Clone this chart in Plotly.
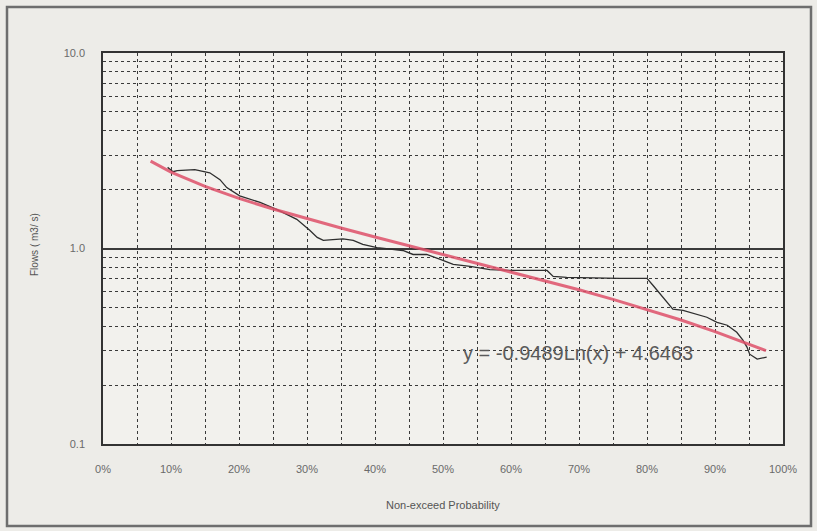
import plotly.graph_objects as go

# Flow duration curve (non-exceedance probability %, flow m3/s)
prob = [9.5, 10.3, 10.9, 13.5, 15.7, 17.2, 18.2, 20.1, 23.1, 25.6, 28.5, 29.4, 30.4, 31.5,
        32.4, 33.8, 35.3, 36.8, 38.2, 40.3, 42.2, 44.1, 45.6, 47.6, 49.6, 51.5, 54.0,
        56.9, 59.9, 63.2, 65.3, 66.2, 68.2, 76.0, 80.0, 80.9, 82.4, 83.8, 85.3, 87.4,
        88.8, 90.3, 91.8, 93.2, 94.1, 94.7, 95.1, 96.2, 97.6]
flow = [2.60, 2.47, 2.50, 2.53, 2.44, 2.25, 2.05, 1.86, 1.72, 1.58, 1.41, 1.33, 1.24, 1.14,
        1.10, 1.11, 1.12, 1.10, 1.05, 1.01, 0.99, 0.977, 0.932, 0.932, 0.879, 0.829, 0.81,
        0.78, 0.772, 0.772, 0.772, 0.72, 0.711, 0.703, 0.703, 0.647, 0.562, 0.489, 0.483, 0.461,
        0.445, 0.419, 0.405, 0.373, 0.340, 0.313, 0.288, 0.272, 0.278]

# Logarithmic trend line
trend_prob = [7, 10, 15, 20, 25, 30, 35, 40, 45, 50, 55, 60, 65, 70, 75, 80, 85, 90, 95, 97.5]
trend_flow = [2.800, 2.461, 2.077, 1.804, 1.592, 1.419, 1.273, 1.146, 1.034, 0.934, 0.844,
              0.761, 0.685, 0.615, 0.549, 0.488, 0.431, 0.376, 0.325, 0.300]

x_ticks = [0, 10, 20, 30, 40, 50, 60, 70, 80, 90, 100]
x_tick_labels = ["0%", "10%", "20%", "30%", "40%", "50%", "60%", "70%", "80%", "90%", "100%"]
y_ticks = [0.1, 1, 10]
y_tick_labels = ["0.1", "1.0", "10.0"]

equation = "y = -0.9489Ln(x) + 4.6463"

W, H = 817, 531
L, R, T, B = 103, 34, 53, 87
pw, ph = W - L - R, H - T - B

def px(xp):
    return (xp - L) / pw

def py(yp):
    return (H - B - yp) / ph

fig = go.Figure()
fig.add_trace(go.Scatter(x=prob, y=flow, mode="lines",
                         line=dict(color="#2e2e2e", width=1.3), showlegend=False))
fig.add_trace(go.Scatter(x=trend_prob, y=trend_flow, mode="lines",
                         line=dict(color="rgba(222,80,105,0.85)", width=3), showlegend=False))

grid_dash = "3px,3px"
fig.update_xaxes(range=[0, 100], tickvals=x_ticks, ticktext=x_tick_labels,
                 showgrid=True, gridcolor="#3a3a3a", gridwidth=1, griddash=grid_dash,
                 minor=dict(dtick=5, showgrid=True, gridcolor="#3a3a3a", gridwidth=1, griddash=grid_dash),
                 showline=True, mirror=True, linecolor="#333", linewidth=1.5,
                 ticks="", zeroline=False,
                 tickfont=dict(family="Liberation Sans, Arial", size=11, color="#6a6a6a"),
                 ticklabelstandoff=14)
fig.update_yaxes(type="log", range=[-1, 1], tickvals=y_ticks, ticktext=y_tick_labels,
                 showgrid=True, gridcolor="#3a3a3a", gridwidth=1.5,
                 minor=dict(dtick="D1", showgrid=True, gridcolor="#3a3a3a", gridwidth=1, griddash=grid_dash),
                 showline=True, mirror=True, linecolor="#333", linewidth=1.5,
                 ticks="", zeroline=False,
                 tickfont=dict(family="Liberation Sans, Arial", size=11, color="#6a6a6a"),
                 ticklabelstandoff=14)

annotations = [
    dict(text="Non-exceed Probability", xref="paper", yref="paper", x=px(443), y=py(505),
         xanchor="center", yanchor="middle",
         showarrow=False, font=dict(family="Liberation Sans, Arial", size=11, color="#555")),
    dict(text="Flows ( m3/ s)", xref="paper", yref="paper", x=px(34), y=py(245),
         xanchor="center", yanchor="middle",
         textangle=-90, showarrow=False, font=dict(family="Liberation Sans, Arial", size=10, color="#555")),
    dict(text=equation, xref="paper", yref="paper", x=px(578), y=py(353),
         xanchor="center", yanchor="middle",
         showarrow=False, font=dict(family="Liberation Sans, Arial", size=20, color="#5a5a5a")),
]

shapes = [
    dict(type="rect", xref="paper", yref="paper", x0=px(7), x1=px(811), y0=py(526), y1=py(7),
         line=dict(color="#6e6e6e", width=2.5), layer="below"),
]

fig.update_layout(width=W, height=H, margin=dict(l=L, r=R, t=T, b=B),
                  paper_bgcolor="#edece8", plot_bgcolor="#f2f1ed",
                  annotations=annotations, shapes=shapes, showlegend=False)

fig.write_html("out.html", config={"displayModeBar": False},
               post_script="document.body.style.margin='0';document.body.style.background='#edece8';")
